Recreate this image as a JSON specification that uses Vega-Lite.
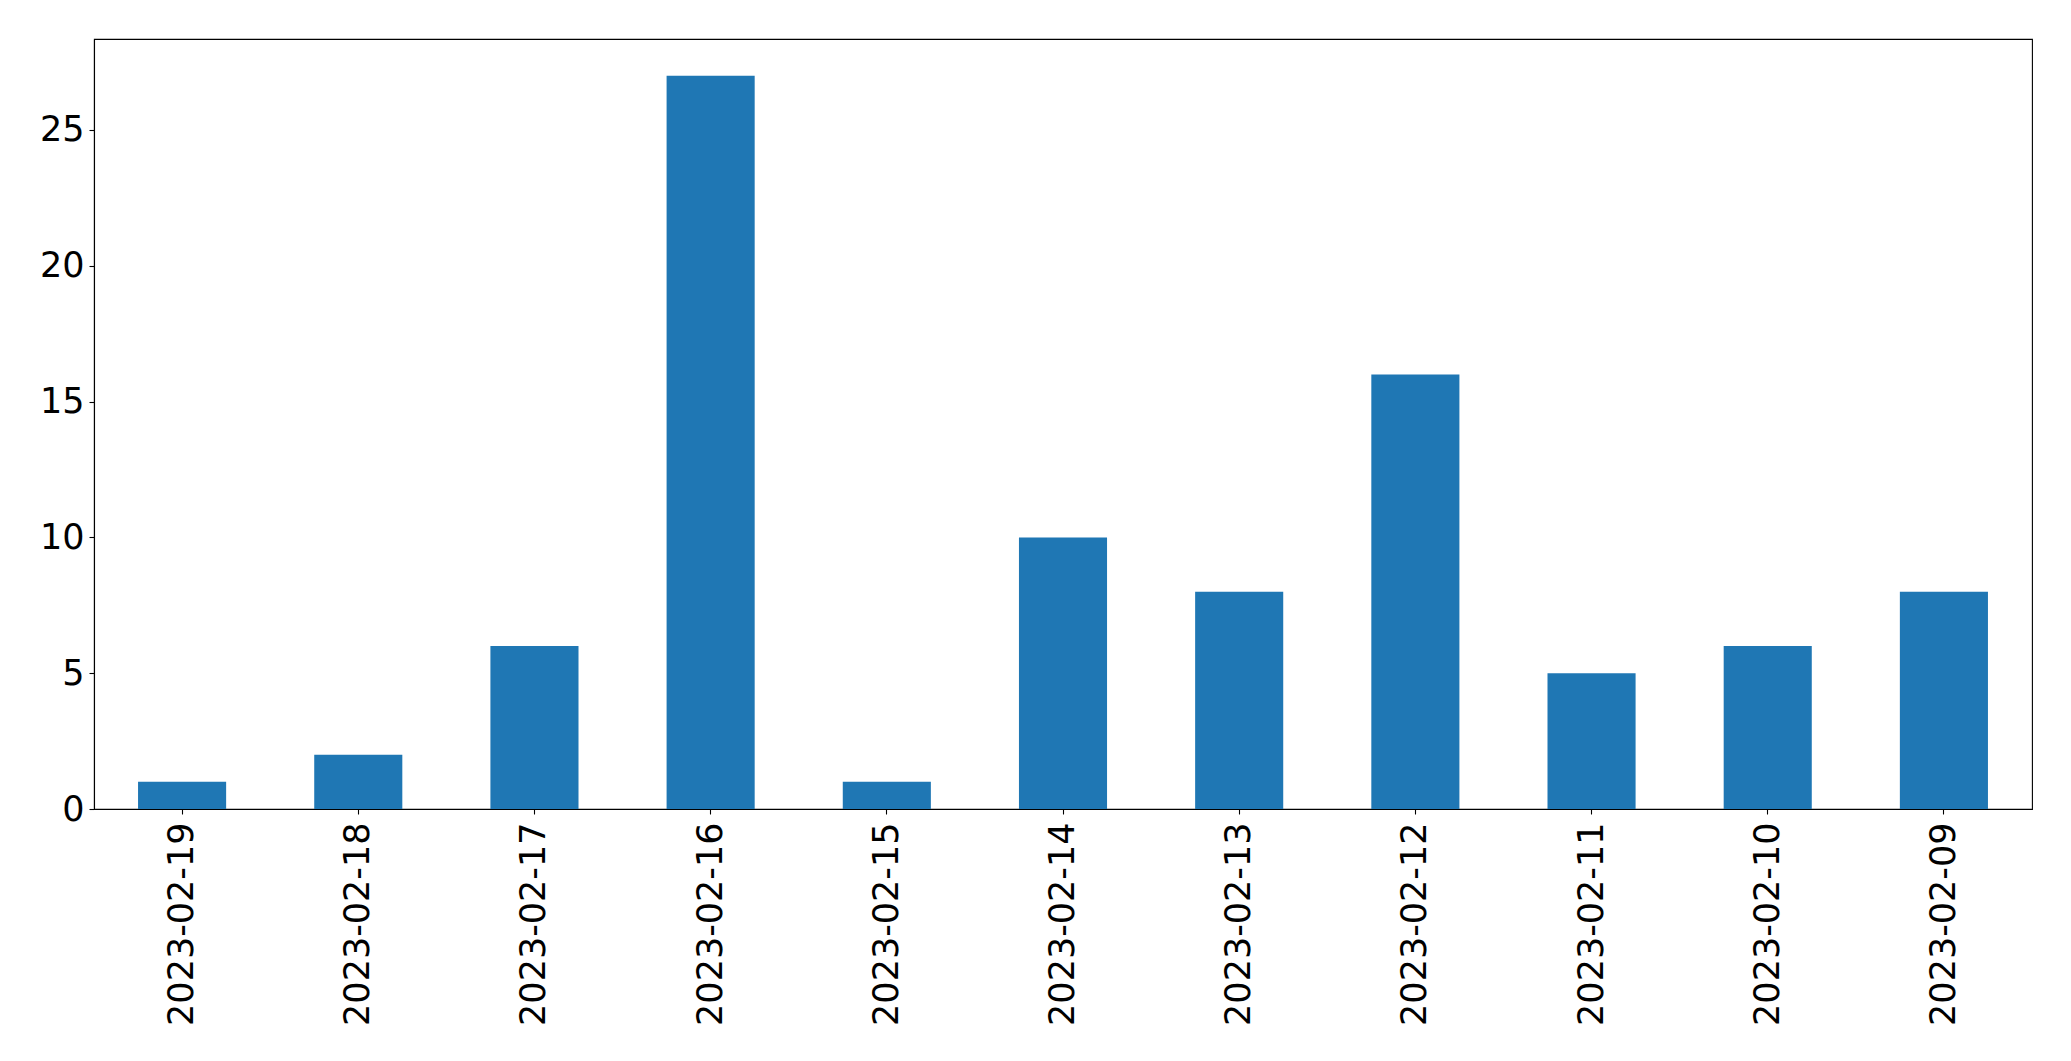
{
  "$schema": "https://vega.github.io/schema/vega-lite/v6.json",
  "width": 1938,
  "height": 770,
  "autosize": {"type": "none"},
  "padding": {"left": 94, "top": 39, "right": 39, "bottom": 252},
  "background": "white",
  "config": {
    "view": {"stroke": "black", "strokeWidth": 1.1},
    "font": "DejaVu Sans",
    "axis": {
      "labelFont": "DejaVu Sans",
      "labelFontSize": 35,
      "labelColor": "black",
      "labelLimit": 0,
      "tickColor": "black",
      "tickWidth": 1.1,
      "tickSize": 5,
      "domainColor": "black",
      "domainWidth": 1.1,
      "grid": false,
      "title": null
    }
  },
  "data": {
    "values": [
      {"date": "2023-02-19", "count": 1},
      {"date": "2023-02-18", "count": 2},
      {"date": "2023-02-17", "count": 6},
      {"date": "2023-02-16", "count": 27},
      {"date": "2023-02-15", "count": 1},
      {"date": "2023-02-14", "count": 10},
      {"date": "2023-02-13", "count": 8},
      {"date": "2023-02-12", "count": 16},
      {"date": "2023-02-11", "count": 5},
      {"date": "2023-02-10", "count": 6},
      {"date": "2023-02-09", "count": 8}
    ]
  },
  "mark": {"type": "bar", "color": "#1f77b4"},
  "encoding": {
    "x": {
      "field": "date",
      "type": "nominal",
      "sort": null,
      "scale": {"paddingInner": 0.5, "paddingOuter": 0.25},
      "axis": {"labelAngle": -90, "labelAlign": "right", "labelBaseline": "middle", "labelPadding": 8}
    },
    "y": {
      "field": "count",
      "type": "quantitative",
      "scale": {"domain": [0, 28.35], "nice": false},
      "axis": {"values": [0, 5, 10, 15, 20, 25], "labelPadding": 5}
    }
  }
}
